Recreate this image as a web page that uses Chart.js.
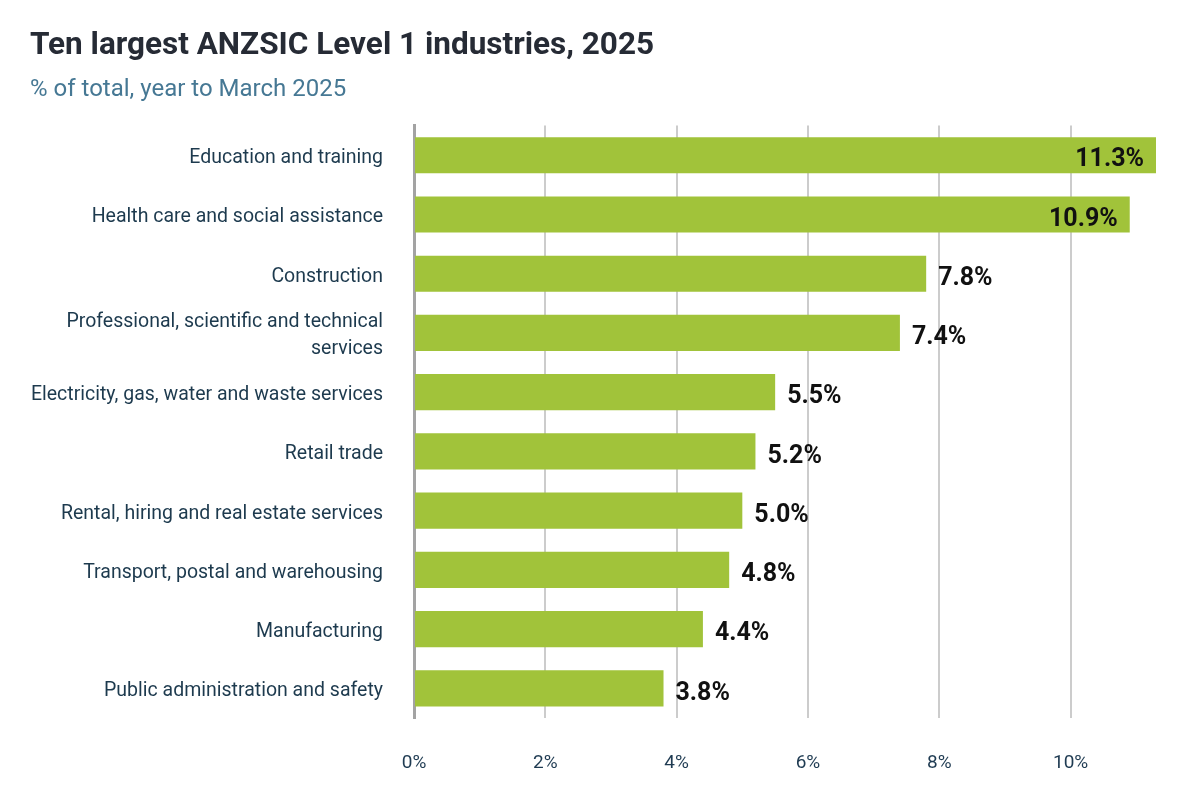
<!DOCTYPE html>
<html lang="en">
<head>
<meta charset="UTF-8">
<title>Ten largest ANZSIC Level 1 industries, 2025</title>
<script src="https://cdn.jsdelivr.net/npm/chart.js@4.4.1/dist/chart.umd.min.js"></script>
<style>
  html, body { margin: 0; padding: 0; background: #fff; }
  #wrap { width: 1200px; height: 800px; }
</style>
</head>
<body>
<div id="wrap"><canvas id="myChart" width="1200" height="800"></canvas></div>
<script>
// industries, largest first
const industries = [
  'Education and training',
  'Health care and social assistance',
  'Construction',
  ['Professional, scientific and technical', 'services'],
  'Electricity, gas, water and waste services',
  'Retail trade',
  'Rental, hiring and real estate services',
  'Transport, postal and warehousing',
  'Manufacturing',
  'Public administration and safety'
];
const shares = [11.3, 10.9, 7.8, 7.4, 5.5, 5.2, 5.0, 4.8, 4.4, 3.8];
const xTicks = [0, 2, 4, 6, 8, 10];

const barLabels = {
  id: 'barLabels',
  afterDatasetsDraw(chart) {
    const ctx = chart.ctx;
    const meta = chart.getDatasetMeta(0);
    ctx.save();
    ctx.font = 'bold 25px Roboto';
    ctx.fillStyle = '#111111';
    ctx.textBaseline = 'middle';
    meta.data.forEach((bar, i) => {
      const v = shares[i];
      const txt = v.toFixed(1) + '%';
      if (v >= 10) {
        ctx.textAlign = 'right';
        ctx.fillText(txt, bar.x - 12, bar.y + 5);
      } else {
        ctx.textAlign = 'left';
        ctx.fillText(txt, bar.x + 12, bar.y + 5);
      }
    });
    ctx.restore();
  }
};

const ctx = document.getElementById('myChart').getContext('2d');
new Chart(ctx, {
  type: 'bar',
  data: {
    labels: industries,
    datasets: [{
      data: shares,
      backgroundColor: '#a1c33a',
      borderWidth: 0,
      barPercentage: 0.61,
      categoryPercentage: 1
    }]
  },
  plugins: [barLabels],
  options: {
    indexAxis: 'y',
    responsive: false,
    animation: false,
    layout: { padding: { left: 30, right: 44, top: 27, bottom: 22 } },
    plugins: {
      legend: { display: false },
      tooltip: { enabled: false },
      title: {
        display: true,
        align: 'start',
        text: 'Ten largest ANZSIC Level 1 industries, 2025',
        color: '#262b35',
        font: { family: 'Roboto', size: 31.5, weight: 'bold' },
        padding: { top: 0, bottom: 11 }
      },
      subtitle: {
        display: true,
        align: 'start',
        text: '% of total, year to March 2025',
        color: '#467894',
        font: { family: 'Roboto', size: 24 },
        padding: { top: 0, bottom: 21 }
      }
    },
    scales: {
      x: {
        min: 0,
        max: 11.3,
        afterBuildTicks(scale) {
          scale.ticks = xTicks.map(v => ({ value: v }));
        },
        afterFit(scale) {
          scale.height = 60;
        },
        ticks: {
          includeBounds: false,
          stepSize: 2,
          padding: 34,
          color: '#1f3b52',
          font: { family: 'Roboto', size: 19 },
          callback: v => v + '%'
        },
        grid: { color: '#cccccc', lineWidth: 2, drawTicks: false },
        border: { display: false }
      },
      y: {
        afterFit(scale) {
          scale.width = 384;
        },
        ticks: {
          padding: 31,
          labelOffset: 3,
          color: '#1d3a4e',
          font: { family: 'Roboto', size: 19.5, lineHeight: 1.4 }
        },
        grid: { display: false, drawTicks: false },
        border: { display: true, color: '#a3a3a3', width: 3 }
      }
    }
  }
});
</script>
</body>
</html>
